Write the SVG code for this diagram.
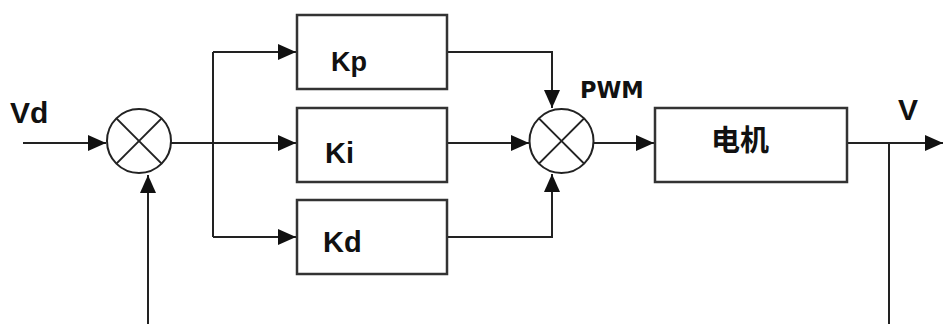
<svg xmlns="http://www.w3.org/2000/svg" width="943" height="324" viewBox="0 0 943 324">
<defs>
<style>
.bg{fill:#fff}
.box{fill:#fff;stroke:#333;stroke-width:2.5}
.sum{fill:#fff;stroke:#222;stroke-width:2}
.x{stroke:#222;stroke-width:2}
.wire{fill:none;stroke:#222;stroke-width:2}
.lbl{font-family:"Liberation Sans","Noto Sans CJK SC",Arial,sans-serif;font-weight:bold;fill:#111}
.wide{font-family:"DejaVu Sans",Verdana,sans-serif}
</style>
<marker id="arr" markerUnits="userSpaceOnUse" markerWidth="20" markerHeight="18" refX="18" refY="8" orient="auto">
<path d="M0,0 L18,8 L0,16 z" fill="#111"/>
</marker>
</defs>
<rect class="bg" x="0" y="0" width="943" height="324"/>
<g id="connectors">
<path class="wire" d="M23,143 H106" marker-end="url(#arr)"/>
<path class="wire" d="M148,324 V175" marker-end="url(#arr)"/>
<path class="wire" d="M171,143 H213"/>
<path class="wire" d="M213,52 V237"/>
<path class="wire" d="M213,52 H296" marker-end="url(#arr)"/>
<path class="wire" d="M213,143 H296" marker-end="url(#arr)"/>
<path class="wire" d="M213,237 H296" marker-end="url(#arr)"/>
<path class="wire" d="M447,52 H552 V108" marker-end="url(#arr)"/>
<path class="wire" d="M447,143 H529" marker-end="url(#arr)"/>
<path class="wire" d="M447,237 H552 V174" marker-end="url(#arr)"/>
<path class="wire" d="M593,143 H654" marker-end="url(#arr)"/>
<path class="wire" d="M847,143 H943" marker-end="url(#arr)"/>
<path class="wire" d="M889,143 V324"/>
</g>
<g id="sum1">
<circle class="sum" cx="139" cy="141" r="32"/>
<line class="x" x1="116.4" y1="118.4" x2="161.6" y2="163.6"/>
<line class="x" x1="161.6" y1="118.4" x2="116.4" y2="163.6"/>
</g>
<g id="kp">
<rect class="box" x="297" y="15" width="150" height="74"/>
<text class="lbl" x="331" y="71" font-size="27">Kp</text>
</g>
<g id="ki">
<rect class="box" x="297" y="108" width="150" height="74"/>
<text class="lbl" x="325" y="163" font-size="29">Ki</text>
</g>
<g id="kd">
<rect class="box" x="297" y="200" width="150" height="74"/>
<text class="lbl" x="323" y="252" font-size="29">Kd</text>
</g>
<g id="sum2">
<circle class="sum" cx="561.5" cy="141" r="32"/>
<line class="x" x1="538.9" y1="118.4" x2="584.1" y2="163.6"/>
<line class="x" x1="584.1" y1="118.4" x2="538.9" y2="163.6"/>
</g>
<g id="pwm">
<text class="lbl wide" x="580" y="98" font-size="22.5">PWM</text>
</g>
<g id="motor">
<rect class="box" x="655" y="108" width="192" height="74"/>
<text class="lbl" x="711" y="151" font-size="29">电机</text>
</g>
<g id="vd">
<text class="lbl" x="10" y="123" font-size="30">Vd</text>
</g>
<g id="v">
<text class="lbl" x="898" y="120" font-size="30">V</text>
</g>
</svg>
